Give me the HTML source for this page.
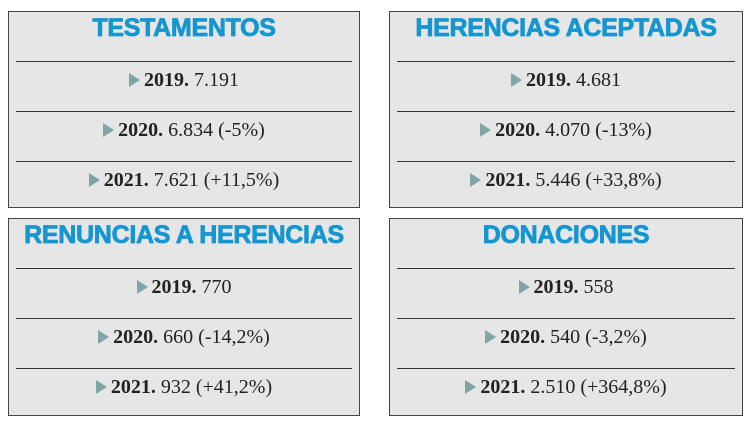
<!DOCTYPE html>
<html><head><meta charset="utf-8"><style>
body{margin:0;width:750px;height:423px;background:#fff;position:relative;font-family:"Liberation Serif",serif;overflow:hidden}
.box{position:absolute;width:352px;height:197px;background:#e6e6e6;border:1px solid #444;box-sizing:border-box}
.t{position:absolute;left:0;right:0;top:2px;text-align:center;font:bold 25px "Liberation Sans",sans-serif;color:#1596d0;-webkit-text-stroke:0.8px #1596d0;letter-spacing:-0.3px}
.ln{position:absolute;left:7px;right:7px;height:1px;background:#333}
.r{position:absolute;left:0;right:0;text-align:center;font-size:20px;color:#222;height:24px;line-height:24px}
.r b{font-weight:bold}
.a{display:inline-block;width:0;height:0;border-top:7px solid transparent;border-bottom:7px solid transparent;border-left:11px solid #80a5a6;margin-right:4px;vertical-align:-1px}
</style></head><body>
<div class="box" style="left:8px;top:11px">
<div class="t">TESTAMENTOS</div>
<div class="ln" style="top:49px"></div><div class="ln" style="top:99px"></div><div class="ln" style="top:149px"></div>
<div class="r" style="top:56px"><span class="a"></span><b>2019.</b> 7.191</div>
<div class="r" style="top:106px"><span class="a"></span><b>2020.</b> 6.834 (-5%)</div>
<div class="r" style="top:156px"><span class="a"></span><b>2021.</b> 7.621 (+11,5%)</div>
</div>
<div class="box" style="left:389px;top:11px;width:354px">
<div class="t">HERENCIAS ACEPTADAS</div>
<div class="ln" style="top:49px"></div><div class="ln" style="top:99px"></div><div class="ln" style="top:149px"></div>
<div class="r" style="top:56px"><span class="a"></span><b>2019.</b> 4.681</div>
<div class="r" style="top:106px"><span class="a"></span><b>2020.</b> 4.070 (-13%)</div>
<div class="r" style="top:156px"><span class="a"></span><b>2021.</b> 5.446 (+33,8%)</div>
</div>
<div class="box" style="left:8px;top:218px;height:198px">
<div class="t">RENUNCIAS A HERENCIAS</div>
<div class="ln" style="top:49px"></div><div class="ln" style="top:99px"></div><div class="ln" style="top:149px"></div>
<div class="r" style="top:56px"><span class="a"></span><b>2019.</b> 770</div>
<div class="r" style="top:106px"><span class="a"></span><b>2020.</b> 660 (-14,2%)</div>
<div class="r" style="top:156px"><span class="a"></span><b>2021.</b> 932 (+41,2%)</div>
</div>
<div class="box" style="left:389px;top:218px;width:354px;height:198px">
<div class="t">DONACIONES</div>
<div class="ln" style="top:49px"></div><div class="ln" style="top:99px"></div><div class="ln" style="top:149px"></div>
<div class="r" style="top:56px"><span class="a"></span><b>2019.</b> 558</div>
<div class="r" style="top:106px"><span class="a"></span><b>2020.</b> 540 (-3,2%)</div>
<div class="r" style="top:156px"><span class="a"></span><b>2021.</b> 2.510 (+364,8%)</div>
</div>
</body></html>
